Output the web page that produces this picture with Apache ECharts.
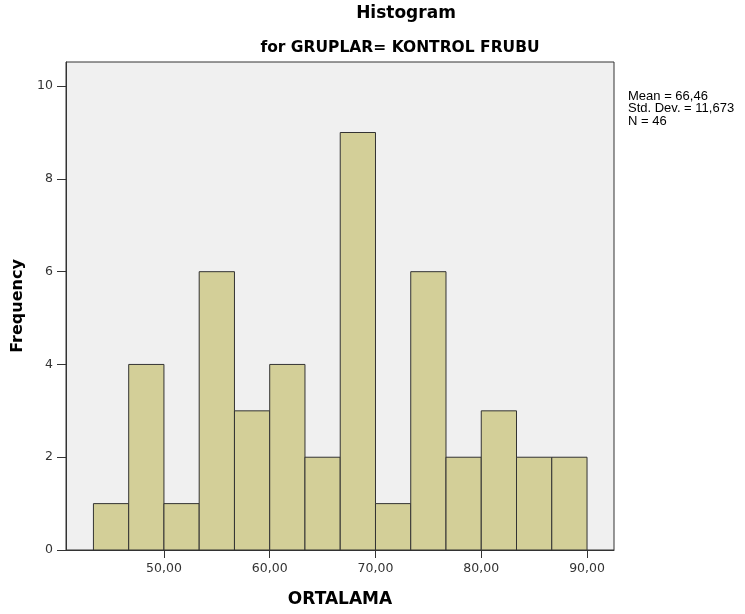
<!DOCTYPE html>
<html>
<head>
<meta charset="utf-8">
<script src="https://cdn.jsdelivr.net/npm/echarts@6/dist/echarts.min.js"></script>
<style>
  html, body { margin: 0; padding: 0; background: #ffffff; }
  #chart { width: 745px; height: 614px; }
</style>
</head>
<body>
<div id="chart"></div>
<script>
// Histogram bins of ORTALAMA (width 10/3), and their frequencies
const binStarts = [43.333, 46.667, 50, 53.333, 56.667, 60, 63.333, 66.667, 70, 73.333, 76.667, 80, 83.333, 86.667];
const binWidth = 10 / 3;
const frequencies = [1, 4, 1, 6, 3, 4, 2, 9, 1, 6, 2, 3, 2, 2];
const xTicks = [50, 60, 70, 80, 90];
const yTicks = [0, 2, 4, 6, 8, 10];
const statLines = ['Mean = 66,46', 'Std. Dev. = 11,673', 'N = 46'];

const wideFont = 'DejaVu Sans, Verdana, sans-serif';
const plainFont = 'Liberation Sans, Arial, Helvetica, sans-serif';
const binData = binStarts.map((s, i) => [s, s + binWidth, frequencies[i]]);

const chart = echarts.init(document.getElementById('chart'));
chart.setOption({
  animation: false,
  textStyle: { fontFamily: wideFont },
  graphic: [
    { type: 'text', x: 406, y: 14,
      style: { text: 'Histogram', fontSize: 17, fontWeight: 'bold', fill: '#000', fontFamily: wideFont,
        align: 'center', verticalAlign: 'middle' } },
    { type: 'text', x: 400, y: 48,
      style: { text: 'for GRUPLAR= KONTROL FRUBU', fontSize: 15.5, fontWeight: 'bold', fill: '#000', fontFamily: wideFont,
        align: 'center', verticalAlign: 'middle' } },
    { type: 'text', x: 628, y: 90,
      style: { text: statLines.join('\n'), fontSize: 13, lineHeight: 12.5, fill: '#000', fontFamily: plainFont,
        align: 'left', verticalAlign: 'top' } }
  ],
  grid: {
    left: 66, right: 131, top: 62, bottom: 64,
    show: true, backgroundColor: '#f0f0f0', borderColor: '#333', borderWidth: 1
  },
  xAxis: {
    type: 'value', min: 40.74, max: 92.55,
    name: 'ORTALAMA', nameLocation: 'middle', nameGap: 41,
    nameTextStyle: { fontSize: 17, fontWeight: 'bold', color: '#000', fontFamily: wideFont },
    axisLine: { show: true, lineStyle: { color: '#333', width: 1 } },
    axisTick: { show: true, length: 8, customValues: xTicks, lineStyle: { color: '#333' } },
    axisLabel: { customValues: xTicks, margin: 12, fontSize: 12.5, color: '#333', fontFamily: wideFont,
      formatter: v => v.toFixed(2).replace('.', ',') },
    splitLine: { show: false }
  },
  yAxis: {
    type: 'value', min: 0, max: 10.52,
    name: 'Frequency', nameLocation: 'middle', nameGap: 36, nameRotate: 90,
    nameTextStyle: { fontSize: 16, fontWeight: 'bold', color: '#000', fontFamily: wideFont },
    axisLine: { show: true, lineStyle: { color: '#333', width: 1 } },
    axisTick: { show: true, length: 9, customValues: yTicks, lineStyle: { color: '#333' } },
    axisLabel: { customValues: yTicks, margin: 13, fontSize: 12.5, color: '#333', fontFamily: wideFont },
    splitLine: { show: false }
  },
  series: [{
    type: 'custom',
    data: binData,
    encode: { x: [0, 1], y: 2 },
    renderItem: function (params, api) {
      const p0 = api.coord([api.value(0), 0]);
      const p1 = api.coord([api.value(1), api.value(2)]);
      return {
        type: 'rect',
        shape: { x: p0[0], y: p1[1], width: p1[0] - p0[0], height: p0[1] - p1[1] },
        style: { fill: '#d3cf98', stroke: '#333', lineWidth: 1 }
      };
    }
  }]
});
</script>
</body>
</html>
